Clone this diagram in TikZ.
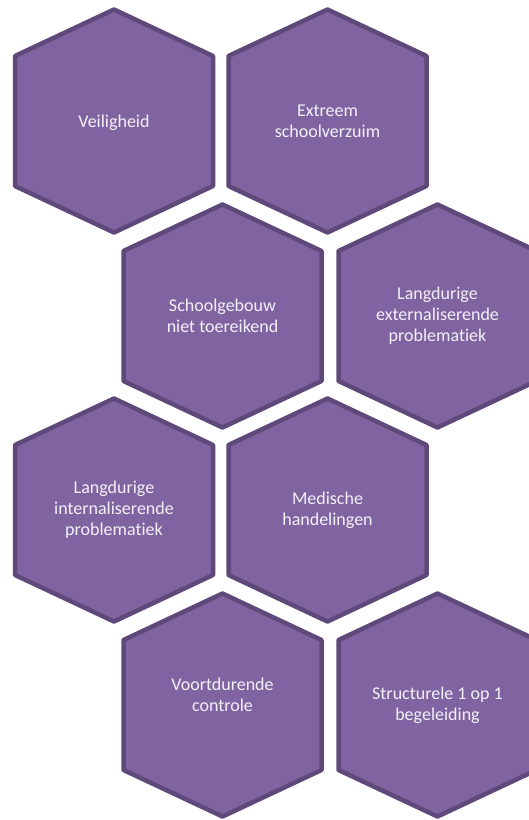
\documentclass[tikz,border=0pt]{standalone}
\usepackage{fontspec}
\setmainfont{Carlito}[Ligatures={TeX,NoCommon}]
\definecolor{hexfill}{HTML}{8064A2}
\definecolor{hexline}{HTML}{5F497A}
\definecolor{hextext}{HTML}{F4F0F8}
\tikzset{
  hexbox/.style={fill=hexfill,draw=hexline,line width=4.5pt,line join=round},
  hexlabel/.style={text=hextext,font=\fontsize{18}{21}\selectfont,align=center,inner sep=0pt}
}
\newcommand{\hexat}[1]{%
  \draw[hexbox] ([shift={(0,-111.5)}]#1) -- ([shift={(99,-65)}]#1) -- ([shift={(99,65)}]#1)
    -- ([shift={(0,111.5)}]#1) -- ([shift={(-99,65)}]#1) -- ([shift={(-99,-65)}]#1) -- cycle;}
\begin{document}
\begin{tikzpicture}[x=1pt,y=-1pt]
\useasboundingbox (0,0) rectangle (529,820);
\clip (0,0) rectangle (529,820);
\coordinate (c1) at (114,121);
\coordinate (c2) at (327.5,121);
\coordinate (c3) at (222.5,316);
\coordinate (c4) at (437.5,316);
\coordinate (c5) at (114,510);
\coordinate (c6) at (327.5,510);
\coordinate (c7) at (222.5,705);
\coordinate (c8) at (437.5,705);
\foreach \c in {c1,c2,c3,c4,c5,c6,c7,c8} {\hexat{\c}}
\node[hexlabel] (t1) at ([yshift=-2pt]c1) {Veiligheid};
\node[hexlabel] (t2) at (c2) {Extreem\\schoolverzuim};
\node[hexlabel] (t3) at (c3) {Schoolgebouw\\niet toereikend};
\node[hexlabel] (t4) at (c4) {Langdurige\\externaliserende\\problematiek};
\node[hexlabel] (t5) at (c5) {Langdurige\\internaliserende\\problematiek};
\node[hexlabel] (t6) at (c6) {Medische\\handelingen};
\node[hexlabel,yshift=10pt] (t7) at (c7) {Voortdurende\\controle};
\node[hexlabel] (t8) at (c8) {Structurele 1 op 1\\begeleiding};
\end{tikzpicture}
\end{document}
